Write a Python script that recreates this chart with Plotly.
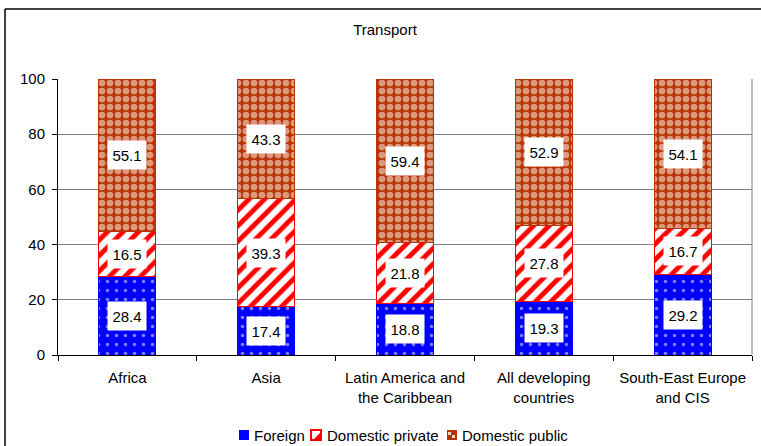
import plotly.graph_objects as go

# Shares of transport investment by ownership (%)
categories = ["Africa", "Asia", "Latin America and<br>the Caribbean",
              "All developing<br>countries", "South-East Europe<br>and CIS"]
foreign = [28.4, 17.4, 18.8, 19.3, 29.2]
domestic_private = [16.5, 39.3, 21.8, 27.8, 16.7]
domestic_public = [55.1, 43.3, 59.4, 52.9, 54.1]
y_ticks = [0, 20, 40, 60, 80, 100]

FONT = "Liberation Sans, Arial, sans-serif"
FS = 15
W, H = 761, 446
ML, MR, MT, MB = 58, 9, 79, 91
PW, PH = W - ML - MR, H - MT - MB

BLUE, RED, BROWN = "#0000FF", "#FF0000", "#B83300"

series = [
    ("Foreign", foreign, dict(color=BLUE, line=dict(color=BLUE, width=1),
                              pattern=dict(shape=".", fgcolor="#FFFFFF", bgcolor=BLUE,
                                           size=9, solidity=0.12))),
    ("Domestic private", domestic_private,
     dict(color=RED, line=dict(color=RED, width=1),
          pattern=dict(shape="/", fgcolor=RED, bgcolor="#FFFFFF",
                       size=11, solidity=0.45, fillmode="replace"))),
    ("Domestic public", domestic_public,
     dict(color=BROWN, line=dict(color=BROWN, width=1),
          pattern=dict(shape=".", fgcolor="#FFFFFF", bgcolor=BROWN,
                       size=8, solidity=0.55))),
]

fig = go.Figure()
for name, vals, marker in series:
    fig.add_trace(go.Bar(x=categories, y=vals, name=name, marker=marker,
                         width=0.41, hoverinfo="x+y+name", showlegend=False))

# Value labels in white boxes centred on each segment
annotations = []
base = [0.0] * len(categories)
for name, vals, _ in series:
    for i, v in enumerate(vals):
        annotations.append(dict(x=categories[i], y=base[i] + v / 2, text=f"{v:.1f}",
                                showarrow=False, bgcolor="#FFFFFF", width=36, height=26,
                                font=dict(family=FONT, size=FS, color="#000000")))
        base[i] += v

# pixel -> paper coordinate helpers for frame and legend
px = lambda x: (x - ML) / PW
py = lambda y: (H - MB - y) / PH

shapes = [
    # outer frame (left and top edges)
    dict(type="line", xref="paper", yref="paper", x0=px(5), x1=px(5), y0=py(9), y1=py(H + 5),
         line=dict(color="#000000", width=1.5)),
    dict(type="line", xref="paper", yref="paper", x0=px(5), x1=px(W + 5), y0=py(9), y1=py(9),
         line=dict(color="#000000", width=1.5)),
    # right edge of the plot area
    dict(type="line", xref="paper", yref="paper", x0=1, x1=1, y0=0, y1=1,
         line=dict(color="#808080", width=1)),
]

# Compact legend: small swatches followed by series names
LEG_Y0, LEG_Y1 = 430, 440
legend_items = [("Foreign", 239, 252), ("Domestic private", 311, 325), ("Domestic public", 447, 460)]
for name, sx, tx in legend_items:
    x0, x1 = px(sx), px(sx + 10)
    y0, y1 = py(LEG_Y1), py(LEG_Y0)
    if name == "Foreign":
        shapes.append(dict(type="rect", xref="paper", yref="paper", x0=x0, x1=x1, y0=y0, y1=y1,
                           fillcolor=BLUE, line=dict(width=0)))
    elif name == "Domestic private":
        shapes.append(dict(type="rect", xref="paper", yref="paper", x0=x0, x1=x1, y0=y0, y1=y1,
                           fillcolor="#FFFFFF", line=dict(color=RED, width=2)))
        shapes.append(dict(type="path", xref="paper", yref="paper",
                           path=f"M {x1},{py(LEG_Y0 + 2)} L {x1},{y0} L {px(sx + 2)},{y0} Z",
                           fillcolor=RED, line=dict(width=0)))
    else:
        shapes.append(dict(type="rect", xref="paper", yref="paper", x0=x0, x1=x1, y0=y0, y1=y1,
                           fillcolor=BROWN, line=dict(width=0)))
        shapes.append(dict(type="rect", xref="paper", yref="paper", x0=px(sx + 1), x1=px(sx + 4),
                           y0=py(LEG_Y0 + 5), y1=py(LEG_Y0 + 2), fillcolor="#F2D8CC",
                           line=dict(width=0)))
        shapes.append(dict(type="rect", xref="paper", yref="paper", x0=px(sx + 5), x1=px(sx + 8),
                           y0=py(LEG_Y0 + 8), y1=py(LEG_Y0 + 5), fillcolor="#F2D8CC",
                           line=dict(width=0)))
    annotations.append(dict(xref="paper", yref="paper", x=px(tx), y=py((LEG_Y0 + LEG_Y1) / 2),
                            xanchor="left", yanchor="middle", text=name, showarrow=False,
                            font=dict(family=FONT, size=FS, color="#000000")))

fig.update_layout(
    width=W, height=H, barmode="stack", bargap=0.59, showlegend=False,
    margin=dict(l=ML, r=MR, t=MT, b=MB, autoexpand=False),
    paper_bgcolor="#FFFFFF", plot_bgcolor="#FFFFFF",
    font=dict(family=FONT, size=FS, color="#000000"),
    title=dict(text="Transport", x=385 / W, xanchor="center", y=1 - 30 / H, yanchor="middle",
               font=dict(family=FONT, size=FS, color="#000000")),
    annotations=annotations, shapes=shapes,
    xaxis=dict(showline=True, linecolor="#000000", linewidth=1, ticks="outside",
               tickson="boundaries", ticklen=5, tickcolor="#000000", automargin=False,
               ticklabelstandoff=9,
               tickfont=dict(family=FONT, size=FS), showgrid=False, fixedrange=True),
    yaxis=dict(range=[0, 100], tickvals=y_ticks, showline=True, linecolor="#000000",
               linewidth=1, ticks="outside", ticklen=5, tickcolor="#000000",
               showgrid=True, gridcolor="#808080", gridwidth=1, zeroline=False,
               ticklabelstandoff=4,
               automargin=False, tickfont=dict(family=FONT, size=FS), fixedrange=True),
)

fig.write_html("out.html")
